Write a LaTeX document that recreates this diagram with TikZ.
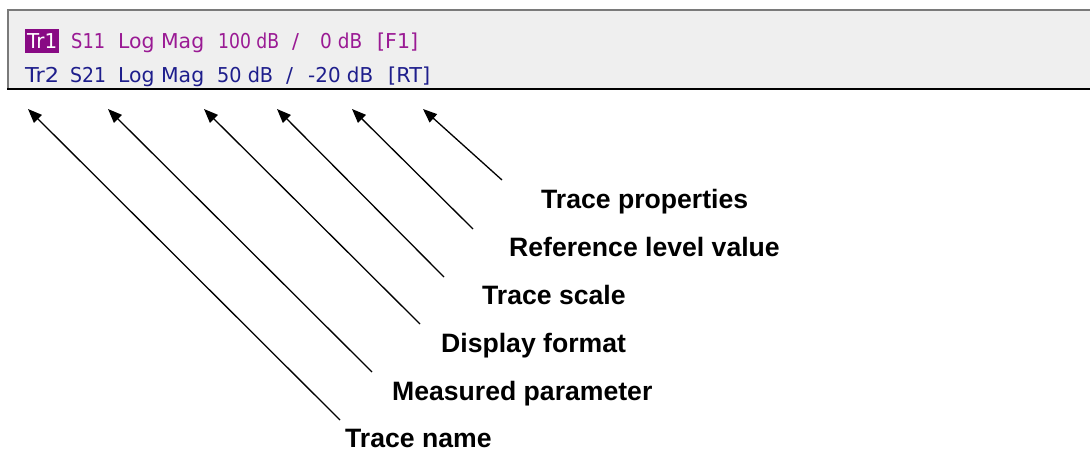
\documentclass[tikz,border=0pt]{standalone}
\usepackage{fontspec}
\setmainfont{Liberation Sans}
\newfontfamily\scrfont{DejaVu Sans}
\usetikzlibrary{arrows.meta}
\definecolor{panelbg}{HTML}{EFEFEF}
\definecolor{panelgray}{HTML}{7A7A7A}
\definecolor{trone}{HTML}{9A1A94}
\definecolor{tronebox}{HTML}{880A84}
\definecolor{trtwo}{HTML}{1E1E8C}
\newlength\wordlen
\newcommand\fitw[2]{\settowidth\wordlen{#2}\pgfmathsetmacro\wordsx{#1/\the\wordlen}\scalebox{\wordsx}[1]{#2}}
\begin{document}
\begin{tikzpicture}[x=1pt,y=-1pt,
  scr/.style={anchor=base west,inner sep=0pt,font=\scrfont\fontsize{20.5}{24}\selectfont},
  lbl/.style={anchor=base west,inner sep=0pt,font=\bfseries\fontsize{26.6}{30}\selectfont},
  pointer/.style={line width=1.3pt,-{Triangle[length=14pt,width=11pt]}}]
\useasboundingbox (0,0) rectangle (1090,452);
% panel
\fill[panelbg] (8,10) rectangle (1090,89);
\draw[panelgray,line width=2pt] (8,89) -- (8,10) -- (1090,10);
\draw[black,line width=2pt] (7,89) -- (1090,89);
% line 1
\fill[tronebox] (25,29) rectangle (59,53);
\node[scr,text=white] (a1) at (27,49) {\fitw{30}{Tr1}};
\node[scr,text=trone] (a2) at (71,49) {\fitw{34}{S11}};
\node[scr,text=trone] (a3) at (118,49) {\fitw{86}{Log Mag}};
\node[scr,text=trone] (a4) at (218,49) {\fitw{61}{100 dB}};
\node[scr,text=trone] (a5) at (292,49) {/};
\node[scr,text=trone] (a6) at (320,49) {\fitw{42}{0 dB}};
\node[scr,text=trone] (a7) at (377,49) {\fitw{41}{[F1]}};
% line 2
\node[scr,text=trtwo] (b1) at (25,83) {\fitw{34}{Tr2}};
\node[scr,text=trtwo] (b2) at (70,83) {\fitw{36}{S21}};
\node[scr,text=trtwo] (b3) at (118,83) {\fitw{86}{Log Mag}};
\node[scr,text=trtwo] (b4) at (217,83) {\fitw{56}{50 dB}};
\node[scr,text=trtwo] (b5) at (286,83) {/};
\node[scr,text=trtwo] (b6) at (308,83) {\fitw{65}{-20 dB}};
\node[scr,text=trtwo] (b7) at (388,83) {\fitw{42}{[RT]}};
% labels
\node[lbl] (tp) at (541,208) {Trace properties};
\node[lbl] (rl) at (509,256) {Reference level value};
\node[lbl] (ts) at (482,304) {Trace scale};
\node[lbl] (df) at (441,352) {Display format};
\node[lbl] (mp) at (392,400) {Measured parameter};
\node[lbl] (tn) at (345,447) {Trace name};
% pointer ends
\coordinate (p1) at (28,109);  \coordinate (q1) at (340,420);
\coordinate (p2) at (108,109); \coordinate (q2) at (372,372);
\coordinate (p3) at (204,109); \coordinate (q3) at (420,324);
\coordinate (p4) at (277,109); \coordinate (q4) at (444,277);
\coordinate (p5) at (352,109); \coordinate (q5) at (473,229);
\coordinate (p6) at (423,109); \coordinate (q6) at (502,180);
\foreach \i in {1,...,6} \draw[pointer] (q\i) -- (p\i);
\end{tikzpicture}
\end{document}
